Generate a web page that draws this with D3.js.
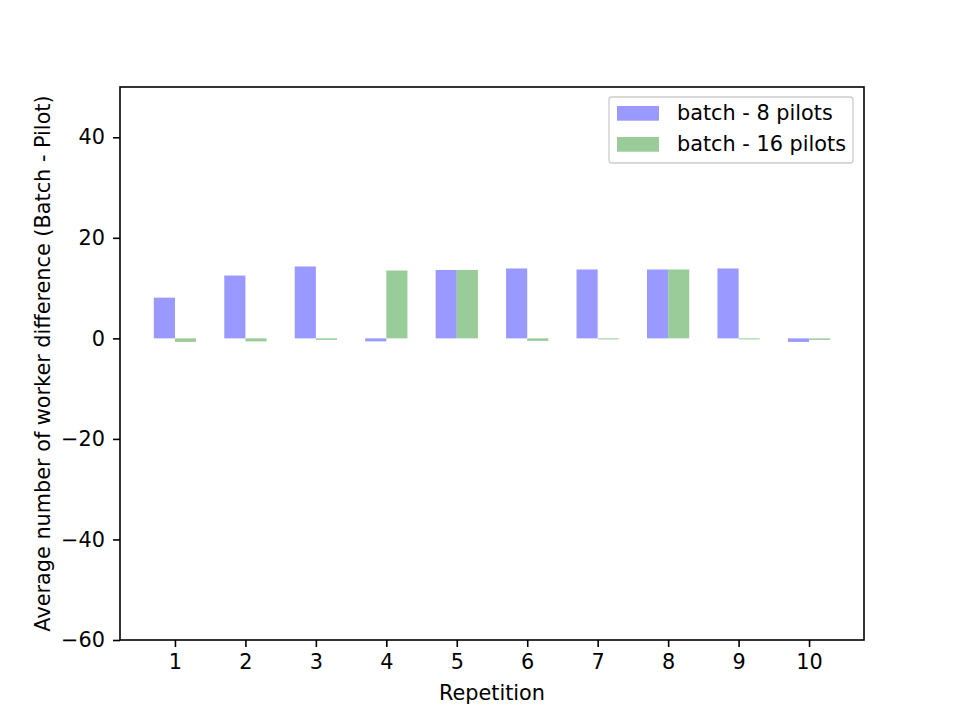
<!DOCTYPE html>
<html>
<head>
    <meta charset="utf-8">
    <script src="https://d3js.org/d3.v7.min.js"></script>
    <style>
        body { margin: 0; background: white; }
        text { font-family: "DejaVu Sans", sans-serif; fill: black; }
        .axis path, .axis line { stroke: black; stroke-width: 1.6px; }
        .axis text { font-size: 20.8px; }
    </style>
</head>
<body>
<script>
    // repetitions 1..10
    const reps = [1, 2, 3, 4, 5, 6, 7, 8, 9, 10];
    // average worker difference (batch - pilot)
    const batch8 = [8.1, 12.5, 14.3, -0.6, 13.6, 13.9, 13.7, 13.7, 13.9, -0.7];
    const batch16 = [-0.7, -0.6, -0.3, 13.5, 13.6, -0.5, -0.2, 13.7, -0.2, -0.3];
    const seriesNames = ["batch - 8 pilots", "batch - 16 pilots"];
    const colors = ["#9999ff", "#99cc99"];
    const yTicks = [-60, -40, -20, 0, 20, 40];

    const W = 960, H = 720;
    const mLeft = 120, mRight = 864, mTop = 87, mBottom = 640;
    const barW = 0.3;

    var svg = d3.select("body").append("svg")
        .attr("width", W).attr("height", H);

    var x = d3.scaleLinear().domain([0.22, 10.78]).range([mLeft, mRight]);
    var y = d3.scaleLinear().domain([-60, 50]).range([mBottom, mTop]);

    // bars, blue to the left of the tick, green to the right
    [batch8, batch16].forEach(function (vals, s) {
        svg.append("g").selectAll("rect")
            .data(vals)
            .enter().append("rect")
            .attr("x", function (d, i) { return x(reps[i] + (s - 1) * barW); })
            .attr("width", x(barW) - x(0))
            .attr("y", function (d) { return y(Math.max(0, d)); })
            .attr("height", function (d) { return Math.abs(y(d) - y(0)); })
            .attr("fill", colors[s]);
    });

    // axes
    svg.append("g").attr("class", "axis")
        .attr("transform", "translate(0," + mBottom + ")")
        .call(d3.axisBottom(x).tickValues(reps).tickSize(7).tickSizeOuter(0).tickPadding(7));
    svg.append("g").attr("class", "axis")
        .attr("transform", "translate(" + mLeft + ",0)")
        .call(d3.axisLeft(y).tickValues(yTicks).tickSize(7).tickSizeOuter(0).tickPadding(8)
            .tickFormat(function (d) { return d < 0 ? "\u2212" + Math.abs(d) : d; }));

    svg.selectAll(".axis .domain").remove();
    // frame
    svg.append("rect")
        .attr("x", mLeft).attr("y", mTop)
        .attr("width", mRight - mLeft).attr("height", mBottom - mTop)
        .attr("fill", "none").attr("stroke", "black").attr("stroke-width", 1.6);

    // axis labels
    svg.append("text")
        .attr("x", (mLeft + mRight) / 2).attr("y", 700)
        .attr("text-anchor", "middle").style("font-size", "20.8px")
        .text("Repetition");
    svg.append("text")
        .attr("transform", "translate(50," + ((mTop + mBottom) / 2) + ") rotate(-90)")
        .attr("text-anchor", "middle").style("font-size", "20.8px")
        .text("Average number of worker difference (Batch - Pilot)");

    // legend
    var leg = svg.append("g");
    leg.append("rect")
        .attr("x", 609).attr("y", 97).attr("width", 244).attr("height", 66)
        .attr("rx", 3).attr("fill", "white").attr("fill-opacity", 0.8)
        .attr("stroke", "#cccccc").attr("stroke-width", 1.3);
    seriesNames.forEach(function (name, i) {
        leg.append("rect")
            .attr("x", 617).attr("y", 106 + i * 31)
            .attr("width", 42).attr("height", 14.7)
            .attr("fill", colors[i]);
        leg.append("text")
            .attr("x", 677).attr("y", 120 + i * 31)
            .style("font-size", "20.8px")
            .text(name);
    });
</script>
</body>
</html>
